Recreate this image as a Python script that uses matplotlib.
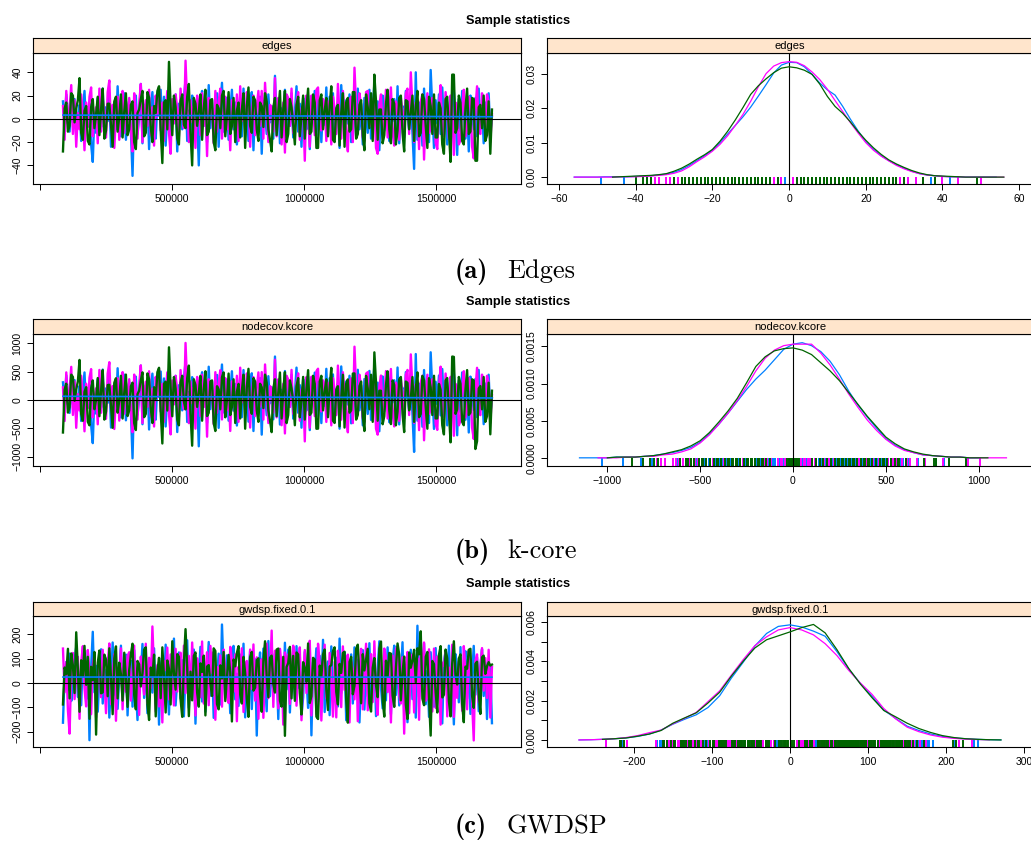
import numpy as np
import matplotlib
matplotlib.use("Agg")
import matplotlib.pyplot as plt

plt.rcParams['font.family'] = ['Liberation Sans', 'DejaVu Sans']

# ---------------- data ----------------
chain_colors = ["#0080ff", "#ff00ff", "#006400"]
iter_start, iter_end = 87000, 1712000

stat_names = ["edges", "nodecov.kcore", "gwdsp.fixed.0.1"]
caption_tags = ["(a)", "(b)", "(c)"]
caption_words = ["Edges", "k-core", "GWDSP"]

edges_blue = [15, -6, 21, 4, -11, 9, -3, 17, -14, 2, 12, -19, 7, 24, -8, 1, 13, -22, -37, 5,
              -12, 18, 3, -7, 26, -16, 10, -2, 19, -24, 6, 14, -9, 28, -5, -15, 11, 22, -18, 4,
              16, -10, -49, 8, 20, -13, 1, 30, -21, 12, -4, 17, -26, 9, 23, -7, -17, 14, 3, 25,
              -11, 19, -23, 6, 27, -14, 10, -1, 21, -28, 13, 4, -9, 18, 33, -19, 7, -12, 20, 11,
              -16, 2, -40, 15, 24, -6, 9, -20, 29, -8, 16, -13, 3, 22, -24, 10, 31, -11, -3, 18,
              -18, 7, 25, -9, 14, -22, 1, 20, -15, 26, -5, 12, -19, 8, 23, -27, 13, 4, -10, 19,
              -30, 15, 6, -13, 21, -3, 11, -17, 37, -8, 17, -21, 9, 2, 25, -12, 14, -6, 22, -16,
              5, 28, -11, 13, -24, 18, 3, -9, 20, -26, 10, -2, 24, -14, 16, 7, -20, 12, -5, 27,
              -13, 19, -7, 22, -18, 9, 14, -25, 29, 1, -11, 16, -4, 21, -20, 11, 6, -15, 26, -9,
              13, -22, 18, 3, -12, 25, -17, 8, 30, -6, 15, -27, 10, 20, -10, 4, 23, -19, 12, -2,
              17, -14, 28, -21, 7, 11, -16, 24, 2, -9, 19, -12, -43, 40, -18, 14, 6, -23, 26, -7,
              12, -20, 42, 9, -25, 16, -4, 21, -13, 27, -8, 15, -22, 5, 19, -14, 23, 1, -31, 17,
              -11, 24, 8, -17, 13, -28, 20, 3, -9, 18, -15, 26, -6, 11, -21, 14, 4, 22, -12, 2]
edges_magenta = [11, -18, 24, -4, 8, 29, -13, 16, -24, 5, -9, 21, 3, -27, 14, -7, 19, 27, -15, 1,
                 10, -21, 26, -11, 17, 6, -16, 23, 33, -8, 12, -25, 4, 19, -18, 9, 24, -12, 15, -3,
                 18, -9, -28, 22, 7, -17, 13, 30, -20, 4, 16, -6, 25, -14, 10, -23, 20, 2, 27, -10,
                 14, -19, 6, 24, -12, -30, 17, -4, 21, 9, -15, 26, 3, -8, 50, 12, -20, 16, -3, 11,
                 -25, 20, 8, -14, 22, -6, 13, -32, 18, 1, 9, -21, 24, -11, 15, 26, -17, 7, 19, -9,
                 5, -27, 16, 11, -13, 21, -19, 28, -2, 14, -9, 23, 17, -24, 6, 20, -14, 10, 24, -6,
                 24, -17, 31, 5, -20, 12, 10, -11, 35, -15, 18, 8, -22, 14, -29, 21, 18, -6, 26, -12,
                 -7, 15, 23, -18, 9, 12, -36, 20, 4, -24, 20, 11, -14, 25, 27, -8, -10, 17, 13, -19,
                 15, 6, -22, 19, 9, -13, 30, 2, -17, 24, 6, -12, -28, 16, 19, -20, 44, 10, -12, 22,
                 11, -16, -19, 23, 24, -4, -6, 17, 14, -25, -30, 12, 21, -9, 3, 25, -16, 8, 27, -11,
                 -23, 15, 10, -18, 18, 6, -11, 22, 26, -13, 40, 9, -20, 14, 7, -26, 15, 21, -35, 6,
                 22, -12, -8, 18, 13, -21, -26, 11, 29, -15, -14, 23, 5, -17, 20, 9, -31, 14, 12, -22,
                 -18, 10, 25, -15, -9, 19, 16, -24, -34, 8, 28, -11, -13, 22, 10, -7, 21, 15, -20, 4]
edges_green = [-28, 9, 14, -11, -6, 22, 20, -3, 9, 16, 35, -12, -18, 7, 11, -19, -22, 10, 17, -8,
               4, 19, -14, 8, 26, -17, -10, 13, 13, -6, -24, 15, 19, -11, 2, 21, -16, 6, 22, -14,
               -9, 12, 15, -20, -26, 5, 8, 17, 24, -15, -12, 23, 18, -7, -20, 11, 5, 24, 28, -10,
               -38, 14, 16, -9, 49, 11, -14, 20, 10, -17, -22, 15, 21, -5, -8, 19, 30, -12, -40, 18,
               13, -6, 6, 21, -18, 9, 25, -14, -11, 16, 17, -20, -27, 12, 9, -8, 20, 24, -15, 3,
               23, -13, -6, 18, -20, 7, 14, -16, 8, 22, -25, 11, 27, -6, -12, 19, 16, -9, -19, 14,
               11, -7, 22, 15, -9, -18, -28, 10, 18, -14, 6, 24, -16, 8, 24, -20, -13, 17, 10, -5,
               -22, 12, 19, -15, 3, 20, -17, 9, 26, -13, -11, 21, 14, -25, -25, 16, 21, -9, 7, 18,
               -15, 11, 28, -18, -20, 9, 12, -23, 5, 22, -24, 14, 18, -11, -9, 23, 23, -17, -13, 12,
               16, -14, -27, 21, 10, -8, 22, -19, 38, 15, -18, 8, 8, -21, -14, 13, 25, -9, -21, 17,
               13, -22, -10, 18, 20, -12, -28, 16, 15, -9, 6, 20, -19, 10, 24, -15, -12, 21, 17, -6,
               -25, 19, 11, -13, 21, -16, -16, 14, 9, -22, -30, 17, 19, -10, -37, 38, 38, -12, -8, 20,
               14, -19, -22, 9, 26, -13, -11, 18, 17, -36, -36, 10, 12, -8, 20, -19, -14, 15, -30, 8]

kcore_blue = [312, -97, 436, 63, -228, 171, -74, 352, -293, 28, 247, -371, 158, 487, -149, 12, 268, -446, -762, 93,
              -241, 367, 54, -132, 538, -322, 205, -51, 394, -487, 117, 281, -176, 561, -108, -307, 226, 448, -359, 79,
              318, -203, -1031, 164, 413, -262, 17, 607, -428, 239, -83, 342, -521, 186, 466, -139, -347, 288, 57, 503,
              -224, 381, -468, 122, 549, -286, 197, -22, 427, -566, 261, 84, -183, 369, 672, -388, 142, -243, 404, 218,
              -327, 41, -818, 302, 491, -118, 184, -403, 588, -161, 326, -267, 58, 443, -492, 206, 627, -219, -64, 362,
              -366, 139, 508, -187, 283, -451, 23, 407, -304, 529, -96, 243, -383, 167, 472, -548, 259, 77, -206, 386,
              -612, 307, 119, -268, 421, -57, 226, -341, 768, -163, 347, -433, 178, 37, 512, -247, 284, -118, 446, -329,
              96, 572, -226, 263, -489, 368, 61, -184, 411, -532, 203, -38, 484, -283, 327, 141, -408, 247, -102, 551,
              -263, 384, -146, 452, -371, 182, 288, -507, 593, 18, -223, 329, -79, 428, -412, 224, 121, -306, 534, -181,
              262, -447, 371, 63, -246, 514, -352, 158, 611, -124, 306, -553, 199, 416, -197, 86, 471, -392, 238, -43,
              349, -287, 574, -431, 144, 219, -328, 493, 46, -182, 388, -241, -917, 812, -366, 287, 118, -472, 529, -144,
              244, -407, 843, 183, -511, 323, -76, 432, -271, 548, -159, 304, -448, 103, 391, -288, 467, 26, -623, 344,
              -219, 487, 166, -349, 258, -574, 413, 64, -178, 372, -303, 531, -127, 228, -427, 289, 81, 447, -251, 34]
kcore_magenta = [223, -371, 488, -82, 163, 586, -264, 327, -491, 104, -186, 428, 58, -553, 287, -143, 392, 546, -307, 21,
                 207, -429, 531, -226, 344, 118, -331, 467, 668, -158, 246, -512, 79, 386, -364, 187, 493, -241, 308, -62,
                 367, -181, -569, 449, 143, -346, 264, 612, -406, 83, 324, -121, 508, -288, 201, -468, 409, 43, 553, -204,
                 286, -387, 124, 489, -246, -608, 346, -78, 427, 182, -303, 529, 66, -163, 1008, 243, -409, 326, -58, 224,
                 -506, 408, 161, -284, 447, -123, 266, -648, 367, 24, 183, -428, 492, -227, 304, 527, -344, 146, 386, -184,
                 98, -547, 329, 222, -263, 428, -386, 571, -44, 286, -182, 469, 348, -487, 121, 404, -283, 207, 488, -117,
                 493, -346, 628, 102, -407, 246, 203, -224, 712, -306, 366, 162, -446, 287, -591, 428, 363, -124, 532, -243,
                 -141, 306, 471, -366, 184, 244, -731, 406, 81, -489, 411, 226, -284, 507, 553, -166, -203, 348, 262, -387,
                 303, 124, -448, 387, 181, -266, 608, 42, -348, 491, 118, -247, -571, 326, 384, -408, 942, 204, -246, 447,
                 226, -324, -388, 466, 492, -83, -119, 347, 283, -508, -612, 241, 432, -186, 64, 511, -327, 163, 548, -228,
                 -467, 308, 202, -369, 364, 123, -221, 448, 531, -266, 806, 187, -406, 284, 143, -532, 309, 427, -712, 117,
                 446, -244, -161, 368, 263, -429, -528, 227, 589, -304, -286, 468, 103, -347, 409, 182, -632, 286, 241, -448,
                 -366, 204, 509, -306, -183, 388, 323, -492, -689, 166, 569, -224, -268, 448, 206, -146, 427, 307, -404, 86]
kcore_green = [-574, 183, 288, -222, -126, 448, 407, -13, 186, 327, 708, -246, -367, 143, 226, -386, -447, 204, 346, -163,
               8, 388, -286, 164, 528, -346, -206, 264, 268, -122, -491, 306, 384, -224, -4, 428, -327, 124, 449, -283,
               -184, 243, 306, -408, -531, 103, 164, 347, 488, -304, -246, 469, 366, -143, -407, 226, 21, 491, 569, -203,
               -768, 286, 324, -186, 931, 224, -287, 406, 203, -348, -447, 306, 428, -23, -166, 386, 608, -247, -807, 367,
               264, -122, 124, 427, -366, 183, 508, -284, -226, 327, 346, -407, -548, 244, 186, -164, 404, 487, -306, 2,
               467, -266, -124, 366, -406, 146, 284, -326, 162, 447, -507, 224, 551, -123, -244, 387, 326, -184, -386, 287,
               224, -143, 448, 306, -182, -367, -568, 203, 366, -286, 124, 486, -326, 163, 491, -408, -266, 346, 206, -31,
               -446, 244, 387, -306, -17, 408, -346, 183, 527, -264, -224, 428, 286, -508, -506, 326, 427, -183, 144, 366,
               -304, 224, 568, -366, -406, 184, 244, -467, 33, 446, -487, 286, 364, -224, -184, 467, 469, -346, -264, 246,
               326, -284, -548, 427, 204, -163, 446, -386, 842, 306, -366, 164, 163, -428, -286, 264, 507, -184, -426, 346,
               264, -447, -204, 366, 407, -244, -567, 326, 304, -183, 14, 406, -386, 204, 488, -304, -246, 427, 346, -124,
               -507, 386, 224, -266, 428, -326, -324, 284, 184, -446, -608, 346, 388, -204, -748, 768, 762, -244, -164, 407,
               286, -386, -446, 183, 528, -264, -224, 366, 346, -866, -728, 204, 246, -164, 406, -386, -286, 306, -606, 164]

gwdsp_blue = [-163, 42, 87, -28, 121, -74, -12, 96, 148, -57, 33, -91, 108, 17, -66, 132, -235, 64, 211, -38,
              71, -118, 24, 139, -84, 56, -29, 103, -142, 11, 167, -47, 82, -106, 36, 154, -71, 19, 117, -133,
              48, 92, -97, 136, -15, -152, 79, 26, 161, -61, 107, -124, 14, 88, -39, 143, -86, 53, -171, 67,
              112, -45, 158, -8, -129, 74, 31, 183, -92, 19, 126, -63, 94, -137, 41, 176, -102, 58, -21, 138,
              -167, 83, 27, 149, -76, 104, -118, 36, 169, -52, 91, -143, 64, 18, 121, -88, 241, 47, -59, 114,
              27, -124, 86, 153, -67, 38, -94, 117, -29, 162, -141, 73, 12, 134, -107, 59, 98, -216, 44, 126,
              -78, 142, 9, -116, 173, -54, 87, -39, 121, 63, -148, 101, 28, -87, 166, -26, 138, -121, 47, 94,
              -63, 152, -19, 109, -134, -59, 128, 21, -102, 157, -215, 84, 37, 143, -76, 112, -48, 178, -119, 31,
              89, -132, 151, -68, 16, 104, -96, 183, -41, 72, 127, -153, 56, -27, 118, -84, 147, -11, 96, -162,
              33, 136, -109, 81, -54, 164, -87, 39, 121, -136, 58, 172, -18, -104, 93, -71, 147, 26, -128, 88,
              154, -49, 119, -92, 31, 168, -113, 72, -161, 41, 137, -66, 99, -142, 236, -57, 108, -34, 163, -87,
              51, -139, 127, 18, -97, 144, -62, 113, 38, -166, 86, 132, -41, 154, -113, 24, -170, 119, 63, -79,
              148, -102, 57, 131, -64, 92, -127, 29, 153, -48, 106, -116, 68, 139, -53, 84, -148, 34, 71, -165]
gwdsp_magenta = [142, -38, 86, -113, -208, 57, 124, -66, 31, 108, -147, 84, 152, -21, -96, 136, 47, -128, 73, 118,
                 -141, 22, 96, -58, 137, 14, -124, 78, 163, -87, 42, 119, -155, 61, 28, 143, -108, 89, -36, 112,
                 127, -72, 38, 154, -97, 61, -131, 109, 17, -47, 162, -83, 104, -21, 233, 46, -118, 74, -96, 38,
                 -162, 91, 53, 146, -67, 118, 18, -92, 141, -35, 76, 125, -113, 154, -41, 88, 112, -68, 167, 9,
                 -133, 102, 47, -58, 171, -84, 36, 127, -91, 153, 42, 129, -151, 66, 18, 114, -97, 138, 58, -43,
                 -82, 149, 93, -36, 118, -157, 67, 22, 143, -119, 51, 91, -124, 138, -24, 159, -72, 106, -147, 81,
                 98, -143, 57, 162, -62, 24, 216, -98, 133, 29, -104, 141, 71, -171, 126, 68, 118, -86, 47, 154,
                 121, -93, 63, 147, -153, 22, 136, -41, 91, 174, -133, 58, 79, -127, 162, 81, -154, 36, 158, -64,
                 -61, 124, 16, -138, 87, -141, 133, 62, -99, 151, -28, 93, 117, -162, 88, 56, -67, 139, -157, 42,
                 141, -108, 36, 162, -112, 44, 119, -78, 172, -47, -131, 96, 67, -43, 142, 106, -37, 89, -162, 113,
                 -93, 139, 152, -49, -84, 106, -208, 63, 128, -124, 54, 117, -121, 68, 103, -151, 156, 24, 167, -73,
                 -58, 139, 43, -117, 142, -102, 109, 36, -171, 84, 71, 132, -137, 64, -42, 158, -139, 21, -61, 88,
                 94, -114, 152, 47, -108, 133, 58, -76, -236, 91, 118, -79, 62, 144, -31, 103, -61, 137, -142, 66]
gwdsp_green = [-88, 64, 36, 141, -63, 122, 72, -41, 209, 58, -118, 94, 28, 153, -7, 108, -147, 67, 12, 128,
               -212, 83, 134, -42, -38, 117, 96, -54, 143, 21, -128, 102, 151, -63, 84, 36, -72, 125, 19, -98,
               54, 118, 162, -47, -108, 91, 77, -14, 41, 138, 147, -89, -152, 64, 26, 117, -137, 48, 104, -62,
               147, 28, -121, 93, 58, -88, 172, 41, -27, 119, 108, -67, -139, 82, 222, 63, -136, 47, -71, 112,
               126, -38, -97, 81, 46, 113, -133, 68, 74, -2, -53, 143, 132, -86, -108, 73, 19, 128, -74, 22,
               116, 43, -158, 97, 69, 124, 152, -47, -84, 108, 41, -63, -139, 107, 128, -31, -19, 94, 102, -48,
               -118, 91, 172, 27, -58, 104, 113, -4, -39, 138, 142, -73, -97, 108, -217, 66, 83, 149, -63, 112,
               -73, 126, 118, -41, -129, 86, 63, 5, 163, -82, -54, 104, 97, -138, -148, 72, 26, 118, 138, -28,
               -111, 68, 74, 132, 147, -37, -88, 79, 42, 124, 129, -71, -163, 87, 108, -46, -11, 141, 158, 22,
               -83, 119, 52, 96, 141, -84, -117, 63, 103, -9, -58, 142, 171, -71, -138, 92, 27, 124, 121, -51,
               -98, 62, 163, 117, -71, 43, 109, -88, -148, 126, 63, 93, 137, 3, 143, 118, 213, -64, -91, 108,
               128, -64, -216, 91, 78, -38, -121, 116, 152, -59, -48, 138, 102, -73, -137, 81, 172, 36, -6, 101,
               118, -86, -161, 68, 59, 137, 141, -52, -102, 79, 88, -41, -127, 106, 113, 38, 69, 86, 72, 76]

nan = np.nan
edges_dens_x = [-56, -54, -52, -50, -48, -46, -44, -42, -40, -38, -36, -34, -32, -30, -28, -26, -24, -22, -20,
                -18, -16, -14, -12, -10, -8, -6, -4, -2, 0, 2, 4, 6, 8, 10, 12, 14, 16, 18, 20,
                22, 24, 26, 28, 30, 32, 34, 36, 38, 40, 42, 44, 46, 48, 50, 52, 54, 56]
edges_dens_blue = [0.0000, 0.0000, 0.0000, 0.0000, 0.0001, 0.0001, 0.0001, 0.0001, 0.0002, 0.0003, 0.0004,
                   0.0006, 0.0009, 0.0014, 0.0022, 0.0034, 0.0048, 0.0062, 0.0078,
                   0.0100, 0.0125, 0.0150, 0.0175, 0.0203, 0.0235, 0.0268, 0.0302, 0.0325, 0.0333,
                   0.0332, 0.0320, 0.0298, 0.0273, 0.0253, 0.0238, 0.0205, 0.0168, 0.0134, 0.0104,
                   0.0081, 0.0062, 0.0048, 0.0036, 0.0026, 0.0017, 0.0010, 0.0006, 0.0004, 0.0002,
                   0.0001, 0.0001, 0.0000, 0.0000, 0.0000, 0.0000, 0.0000, nan]
edges_dens_magenta = [0.0000, 0.0000, 0.0000, 0.0000, 0.0000, 0.0000, 0.0001, 0.0001, 0.0001, 0.0002, 0.0003,
                      0.0005, 0.0007, 0.0011, 0.0018, 0.0030, 0.0045, 0.0059, 0.0075,
                      0.0095, 0.0120, 0.0150, 0.0182, 0.0220, 0.0262, 0.0300, 0.0322, 0.0332, 0.0335,
                      0.0333, 0.0323, 0.0305, 0.0283, 0.0255, 0.0222, 0.0190, 0.0158, 0.0128, 0.0100,
                      0.0078, 0.0061, 0.0047, 0.0034, 0.0024, 0.0016, 0.0010, 0.0006, 0.0004, 0.0002,
                      0.0001, 0.0001, 0.0000, 0.0000, 0.0000, 0.0000, 0.0000, 0.0000]
edges_dens_green = [nan, nan, nan, nan, nan, 0.0000, 0.0001, 0.0002, 0.0003, 0.0004, 0.0005,
                    0.0007, 0.0010, 0.0017, 0.0026, 0.0038, 0.0052, 0.0065, 0.0080,
                    0.0104, 0.0133, 0.0166, 0.0202, 0.0240, 0.0265, 0.0285, 0.0303, 0.0316, 0.0320,
                    0.0317, 0.0310, 0.0298, 0.0270, 0.0234, 0.0205, 0.0185, 0.0160, 0.0132, 0.0107,
                    0.0085, 0.0066, 0.0050, 0.0038, 0.0028, 0.0019, 0.0012, 0.0007, 0.0004, 0.0003,
                    0.0002, 0.0001, 0.0000, 0.0000, 0.0000, 0.0000, 0.0000, 0.0000]

kcore_dens_x = [-1150, -1100, -1050, -1000, -950, -900, -850, -800, -750, -700, -650, -600, -550, -500,
                -450, -400, -350, -300, -250, -200, -150, -100, -50, 0, 50, 100, 150, 200, 250, 300,
                350, 400, 450, 500, 550, 600, 650, 700, 750, 800, 850, 900, 950, 1000, 1050, 1100, 1150]
kcore_dens_blue = [0.0, 0.0, 0.0, 0.0, 0.00001, 0.00001, 0.00001, 0.00002, 0.00003, 0.00005, 0.00007,
                   0.00010, 0.00014, 0.00021, 0.00032, 0.00045, 0.00060, 0.00076, 0.00092, 0.00106,
                   0.00118, 0.00132, 0.00146, 0.00153, 0.00155, 0.00151, 0.00143, 0.00130, 0.00112,
                   0.00090, 0.00071, 0.00055, 0.00040, 0.00026, 0.00017, 0.00011, 0.00007, 0.00004,
                   0.00003, 0.00002, 0.00001, 0.00001, 0.0, 0.0, nan, nan, nan]
kcore_dens_magenta = [nan, nan, 0.0, 0.0, 0.0, 0.00001, 0.00001, 0.00002, 0.00002, 0.00004, 0.00005,
                      0.00008, 0.00012, 0.00020, 0.00031, 0.00045, 0.00060, 0.00077, 0.00096, 0.00117,
                      0.00134, 0.00145, 0.00151, 0.00153, 0.00153, 0.00153, 0.00141, 0.00125, 0.00106,
                      0.00086, 0.00068, 0.00051, 0.00037, 0.00025, 0.00016, 0.00010, 0.00007, 0.00004,
                      0.00003, 0.00002, 0.00001, 0.00001, 0.0, 0.0, 0.0, 0.0, 0.0]
kcore_dens_green = [nan, nan, nan, 0.0, 0.00001, 0.00001, 0.00001, 0.00002, 0.00003, 0.00005, 0.00008,
                    0.00011, 0.00016, 0.00023, 0.00034, 0.00048, 0.00063, 0.00080, 0.00101, 0.00123,
                    0.00136, 0.00144, 0.00147, 0.00148, 0.00145, 0.00139, 0.00128, 0.00117, 0.00104,
                    0.00088, 0.00072, 0.00056, 0.00042, 0.00028, 0.00019, 0.00012, 0.00008, 0.00005,
                    0.00003, 0.00002, 0.00001, 0.00001, 0.0, 0.0, 0.0, nan, nan]

gwdsp_dens_x = [-270, -255, -240, -225, -210, -195, -180, -165, -150, -135, -120, -105, -90, -75, -60,
                -45, -30, -15, 0, 15, 30, 45, 60, 75, 90, 105, 120, 135, 150, 165, 180, 195, 210,
                225, 240, 255, 270]
gwdsp_dens_blue = [0.0, 0.00001, 0.00003, 0.00006, 0.00010, 0.00018, 0.00030, 0.00050, 0.00080, 0.00105,
                   0.00128, 0.00165, 0.00225, 0.00315, 0.00395, 0.00478, 0.00542, 0.00578, 0.00586,
                   0.00575, 0.00554, 0.00528, 0.00450, 0.00362, 0.00288, 0.00222, 0.00152, 0.00110,
                   0.00070, 0.00048, 0.00030, 0.00018, 0.00010, 0.00006, 0.00003, 0.00001, 0.0]
gwdsp_dens_magenta = [0.0, 0.00001, 0.00003, 0.00006, 0.00012, 0.00022, 0.00037, 0.00050, 0.00082, 0.00110,
                      0.00140, 0.00195, 0.00250, 0.00330, 0.00408, 0.00480, 0.00525, 0.00560, 0.00572,
                      0.00560, 0.00535, 0.00490, 0.00430, 0.00355, 0.00290, 0.00232, 0.00160, 0.00108,
                      0.00065, 0.00042, 0.00025, 0.00014, 0.00008, 0.00004, 0.00002, 0.00001, nan]
gwdsp_dens_green = [nan, nan, 0.00003, 0.00006, 0.00010, 0.00019, 0.00030, 0.00048, 0.00085, 0.00112,
                    0.00138, 0.00188, 0.00243, 0.00325, 0.00400, 0.00468, 0.00510, 0.00530, 0.00550,
                    0.00572, 0.00588, 0.00545, 0.00460, 0.00365, 0.00285, 0.00215, 0.00150, 0.00118,
                    0.00085, 0.00058, 0.00038, 0.00022, 0.00012, 0.00006, 0.00003, 0.00001, 0.0]

trace_ticks = [0, 500000, 1000000, 1500000]
trace_ticklabels = ["", "500000", "1000000", "1500000"]
trace_yticks = [[-40, -20, 0, 20, 40], [-1000, -500, 0, 500, 1000], [-200, -100, 0, 100, 200]]
dens_xticks = [[-60, -40, -20, 0, 20, 40, 60], [-1000, -500, 0, 500, 1000], [-200, -100, 0, 100, 200, 300]]
dens_yticks = [[0, 0.01, 0.02, 0.03], [0, 0.0005, 0.001, 0.0015],
               [0, 0.001, 0.002, 0.003, 0.004, 0.005, 0.006]]
dens_yticklabels = [["0.00", "0.01", "0.02", "0.03"], ["0.0000", "0.0005", "0.0010", "0.0015"],
                    ["0.000", "", "0.002", "", "0.004", "", "0.006"]]

traces = [[edges_blue, edges_magenta, edges_green],
          [kcore_blue, kcore_magenta, kcore_green],
          [gwdsp_blue, gwdsp_magenta, gwdsp_green]]
dens_x = [edges_dens_x, kcore_dens_x, gwdsp_dens_x]
dens_y = [[edges_dens_blue, edges_dens_magenta, edges_dens_green],
          [kcore_dens_blue, kcore_dens_magenta, kcore_dens_green],
          [gwdsp_dens_blue, gwdsp_dens_magenta, gwdsp_dens_green]]

# ---------------- layout (pixels) ----------------
W, H = 1031, 846
rows = [dict(title=21, strip_top=38, strip_bot=53, bot=184, cap=278,
             tylim=(-56, 56.6), dxlim=(-63.1, 63.6), dylim=(-0.0020, 0.0360)),
        dict(title=302, strip_top=319, strip_bot=334, bot=466, cap=558,
             tylim=(-1166, 1166), dxlim=(-1325, 1293), dylim=(-0.00011, 0.001667)),
        dict(title=584, strip_top=602, strip_bot=616, bot=747, cap=833,
             tylim=(-263, 276), dxlim=(-311, 311), dylim=(-0.00036, 0.00631))]
left_x0, left_x1 = 33, 521
right_x0, right_x1 = 547, 1033


def fx(p):
    return p / W


def fy(p):
    return 1 - p / H


fig = plt.figure(figsize=(W / 100, H / 100), dpi=100)


def style_axes(ax):
    for s in ax.spines.values():
        s.set_linewidth(0.8)
        s.set_color("black")
    ax.tick_params(direction="out", length=4.5, width=0.7, labelsize=7.5, pad=3,
                   top=False, right=False, colors="black")


def add_strip(x0, x1, r, label):
    sax = fig.add_axes([fx(x0), fy(r["strip_bot"]), fx(x1) - fx(x0),
                        (r["strip_bot"] - r["strip_top"]) / H])
    sax.set_facecolor("#ffe5cc")
    sax.set_xticks([])
    sax.set_yticks([])
    for s in sax.spines.values():
        s.set_linewidth(0.8)
        s.set_color("black")
    sax.text(0.5, 0.45, label, ha="center", va="center", fontsize=8, transform=sax.transAxes)


def minus(v):
    return str(v).replace("-", "\u2212")


for i, r in enumerate(rows):
    fig.text(fx(518), fy(r["title"]), "Sample statistics", ha="center", va="center",
             fontsize=9.2, fontweight="bold")
    h = (r["bot"] - r["strip_bot"]) / H
    # trace panel
    ax = fig.add_axes([fx(left_x0), fy(r["bot"]), fx(left_x1) - fx(left_x0), h])
    px, py = [], []
    for vals, c in zip(traces[i], chain_colors):
        it = np.linspace(iter_start, iter_end, len(vals))
        ax.plot(it, vals, color=c, lw=1.7)
        px.append(it)
        py.append(np.asarray(vals, float))
    coef = np.polyfit(np.concatenate(px), np.concatenate(py), 1)
    xs = np.array([iter_start, iter_end])
    ax.plot(xs, np.polyval(coef, xs), color="#0080ff", lw=1.2)
    ax.axhline(0, color="black", lw=0.8)
    ax.set_xlim(-26500, 1822000)
    ax.set_ylim(*r["tylim"])
    ax.set_xticks(trace_ticks)
    ax.set_xticklabels(trace_ticklabels)
    ax.set_yticks(trace_yticks[i])
    ax.set_yticklabels([minus(v) for v in trace_yticks[i]], rotation=90, va="center")
    style_axes(ax)
    add_strip(left_x0, left_x1, r, stat_names[i])

    # density panel
    ax2 = fig.add_axes([fx(right_x0), fy(r["bot"]), fx(right_x1) - fx(right_x0), h])
    y0 = r["dylim"][0]
    for vals, c in zip(traces[i], chain_colors):
        ax2.vlines(vals, y0, 0, color=c, lw=1.4)
    ax2.axvline(0, color="black", lw=0.8)
    for dy, c in zip(dens_y[i], chain_colors):
        ax2.plot(dens_x[i], dy, color=c, lw=0.9)
    ax2.set_xlim(*r["dxlim"])
    ax2.set_ylim(*r["dylim"])
    ax2.set_xticks(dens_xticks[i])
    ax2.set_xticklabels([minus(v) for v in dens_xticks[i]])
    ax2.set_yticks(dens_yticks[i])
    ax2.set_yticklabels(dens_yticklabels[i], rotation=90, va="center")
    style_axes(ax2)
    add_strip(right_x0, right_x1, r, stat_names[i])

    # caption
    fig.text(fx(455), fy(r["cap"]), caption_tags[i], fontfamily="cmb10", fontsize=19,
             ha="left", va="baseline")
    fig.text(fx(507), fy(r["cap"]), caption_words[i], fontfamily="cmr10", fontsize=19,
             ha="left", va="baseline")

fig.savefig("out.png", dpi=100)
